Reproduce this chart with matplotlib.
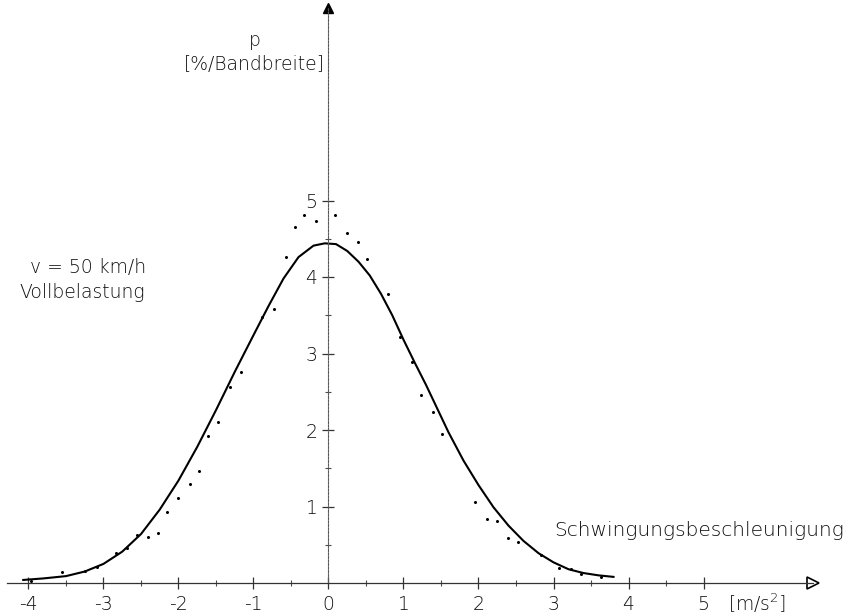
import numpy as np
import matplotlib.pyplot as plt

plt.rcParams['font.family'] = ['DejaVu Sans']
plt.rcParams['mathtext.default'] = 'regular'

# fitted curve
curve_x = [-4.07, -3.8, -3.5, -3.25, -3.0, -2.75, -2.5, -2.25, -2.0, -1.75,
           -1.5, -1.25, -1.0, -0.8, -0.6, -0.4, -0.2, -0.05, 0.1, 0.25,
           0.4, 0.55, 0.7, 0.85, 1.0, 1.15, 1.3, 1.45, 1.6, 1.8,
           2.0, 2.2, 2.4, 2.6, 2.8, 3.0, 3.2, 3.4, 3.6, 3.8]
curve_y = [0.04, 0.06, 0.09, 0.15, 0.25, 0.41, 0.64, 0.96, 1.34, 1.78,
           2.26, 2.76, 3.24, 3.62, 3.98, 4.26, 4.41, 4.44, 4.43, 4.34,
           4.20, 4.02, 3.78, 3.50, 3.18, 2.88, 2.59, 2.28, 1.97, 1.60,
           1.28, 0.99, 0.75, 0.55, 0.39, 0.27, 0.18, 0.13, 0.10, 0.08]

# measured points
pts_x = [-3.96, -3.55, -3.24, -3.08, -2.83, -2.68, -2.55, -2.41, -2.27, -2.15,
         -2.01, -1.85, -1.72, -1.61, -1.47, -1.31, -1.17, -0.89, -0.73, -0.57,
         -0.44, -0.32, -0.17, 0.09, 0.25, 0.40, 0.52, 0.80, 0.96, 1.11,
         1.24, 1.39, 1.51, 1.96, 2.11, 2.25, 2.39, 2.53, 2.83, 3.07,
         3.23, 3.37, 3.63]
pts_y = [0.03, 0.14, 0.16, 0.21, 0.39, 0.46, 0.63, 0.60, 0.65, 0.93,
         1.11, 1.29, 1.46, 1.92, 2.10, 2.56, 2.76, 3.48, 3.58, 4.26,
         4.65, 4.81, 4.73, 4.81, 4.58, 4.46, 4.24, 3.78, 3.22, 2.89,
         2.46, 2.24, 1.95, 1.06, 0.84, 0.81, 0.59, 0.54, 0.37, 0.20,
         0.18, 0.12, 0.08]

xticks = [-4, -3, -2, -1, 0, 1, 2, 3, 4, 5]
xticklabels = ['-4', '-3', '-2', '-1', '0', '1', '2', '3', '4', '5']
yticks = [1, 2, 3, 4, 5]
yticklabels = ['1', '2', '3', '4', '5']

W, H = 853, 616
x0, xs = 328.5, 75.0   # pixel of x=0, pixels per unit
y0, ys = 583.0, 76.5
x_end = (813 - x0) / xs
y_end = (y0 - 8) / ys

fig = plt.figure(figsize=(W / 100, H / 100), dpi=100)
ax = fig.add_axes([0, 0, 1, 1])
ax.set_xlim(-x0 / xs, (W - x0) / xs)
ax.set_ylim((y0 - H) / ys, y0 / ys)

for s in ['top', 'right']:
    ax.spines[s].set_visible(False)
ax.spines['left'].set_position(('data', 0))
ax.spines['bottom'].set_position(('data', 0))
ax.spines['left'].set_bounds(0, y_end)
ax.spines['bottom'].set_bounds((7 - x0) / xs, x_end)
ax.spines['left'].set_color('0.35')
ax.spines['left'].set_linewidth(0.8)
ax.spines['left'].set_linestyle((0, (2, 1.2)))
ax.spines['bottom'].set_color('0.2')
ax.spines['bottom'].set_linewidth(0.9)

ax.set_xticks(xticks)
ax.set_xticklabels(xticklabels)
ax.set_xticks(np.arange(-3.5, 5, 1.0), minor=True)
ax.set_yticks(yticks)
ax.set_yticklabels(yticklabels)
ax.set_yticks(np.arange(0.5, 5, 1.0), minor=True)
ax.tick_params(which='major', direction='inout', length=8, width=0.9,
               color='0.2', labelsize=13.5, labelcolor='0.05')
ax.tick_params(which='minor', direction='inout', length=5, width=0.8,
               color='0.3')
ax.tick_params(axis='x', pad=5)
ax.tick_params(axis='y', pad=4)
for lab in ax.get_xticklabels() + ax.get_yticklabels():
    lab.set_fontweight('light')

# arrow heads
ax.plot([x_end], [0], marker='>', ms=9, mfc='white', mec='black', mew=1.2,
        clip_on=False)
ax.plot([0], [y_end], marker='^', ms=7, color='black', clip_on=False)

ax.plot(curve_x, curve_y, color='black', lw=1.5)
ax.plot(pts_x, pts_y, 'o', color='black', ms=2.2, mew=0)

tkw = dict(fontsize=13.5, color='0.05', fontweight='light')
fig.text(255 / W, 1 - 40 / H, 'p', ha='center', va='center', **tkw)
fig.text(254 / W, 1 - 64 / H, '[%/Bandbreite]', ha='center', va='center', **tkw)
fig.text(88 / W, 1 - 267 / H, 'v = 50 km/h', ha='center', va='center', **tkw)
fig.text(82 / W, 1 - 292 / H, 'Vollbelastung', ha='center', va='center', **tkw)
fig.text(699 / W, 1 - 531 / H, 'Schwingungsbeschleunigung', ha='center',
         va='center', fontsize=14.5, color='0.05', fontweight='light')
fig.text(757 / W, 1 - 603 / H, '[m/s$^{2}$]', ha='center', va='center', **tkw)

fig.savefig('out.png', dpi=100)
